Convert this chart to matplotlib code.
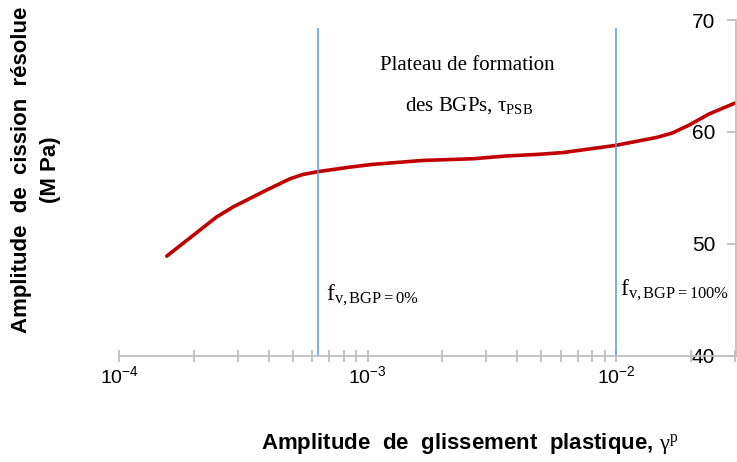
import matplotlib
matplotlib.use("Agg")
from matplotlib import pyplot as plt
from matplotlib.ticker import LogLocator, NullFormatter

plt.rcParams['font.family'] = 'Liberation Sans'
plt.rcParams['axes.unicode_minus'] = False
plt.rcParams['mathtext.fontset'] = 'custom'
plt.rcParams['mathtext.rm'] = 'Liberation Serif'
plt.rcParams['mathtext.it'] = 'Liberation Serif:italic'
plt.rcParams['mathtext.bf'] = 'Liberation Serif:bold'

# curve
gamma_p = [1.556e-4, 2.0e-4, 2.47e-4, 2.88e-4, 3.92e-4, 4.86e-4, 5.5e-4,
           6.32e-4, 8.47e-4, 1.05e-3, 1.67e-3, 2.65e-3, 3.61e-3, 4.91e-3,
           6.09e-3, 9.97e-3, 1.45e-2, 1.68e-2, 1.96e-2, 2.36e-2, 3.02e-2]
tau = [48.9, 50.8, 52.4, 53.3, 54.8, 55.8, 56.2, 56.45, 56.85, 57.1, 57.45,
       57.6, 57.85, 58.0, 58.15, 58.8, 59.5, 59.9, 60.6, 61.6, 62.6]

# onset / end of the PSB plateau
bgp_x = [6.32e-4, 1.0e-2]
bgp_top = 69.3
yticks = [40, 50, 60, 70]

grey = '#BFBFBF'

fig = plt.figure(figsize=(7.37, 4.62), dpi=100)
ax = fig.add_axes([119 / 737, 1 - 355.7 / 462, 617 / 737, 335.7 / 462])

ax.plot(gamma_p, tau, color='#C00000', lw=2.6, solid_capstyle='round',
        solid_joinstyle='round')
ax.vlines(bgp_x, 40, bgp_top, color='#5B9BD5', lw=1.1)

ax.set_xscale('log')
ax.set_xlim(1e-4, 3.03e-2)
ax.set_ylim(40, 70)
ax.set_yticks(yticks)
ax.xaxis.set_major_locator(LogLocator(base=10, numticks=10))
ax.xaxis.set_minor_locator(LogLocator(base=10, subs=range(2, 10), numticks=10))
ax.xaxis.set_minor_formatter(NullFormatter())

for s in ['left', 'top']:
    ax.spines[s].set_visible(False)
for s in ['bottom', 'right']:
    ax.spines[s].set_color(grey)
    ax.spines[s].set_linewidth(1.3)

ax.tick_params(axis='x', which='both', direction='inout', length=9,
               width=1.3, color=grey, labelsize=14, pad=2)
ax.yaxis.tick_right()
ax.tick_params(axis='y', which='both', direction='in', length=6.5, width=1.3,
               color=grey, labelsize=15, pad=-15)
for lab in ax.get_yticklabels():
    lab.set_ha('right')

ax.text(0.565, 0.865, 'Plateau de formation', transform=ax.transAxes,
        family='Liberation Serif', fontsize=15, ha='center', va='center')
ax.text(0.568, 0.745, r'des BGPs, $\mathrm{τ}_{\mathrm{PSB}}$',
        transform=ax.transAxes, family='Liberation Serif', fontsize=15,
        ha='center', va='center')
ax.text(326 / 737, 1 - 295 / 462, r'$\mathrm{f}_{\mathrm{v,BGP=0\%}}$',
        transform=fig.transFigure, fontsize=17, ha='left', va='center')
ax.text(620 / 737, 1 - 290 / 462, r'$\mathrm{f}_{\mathrm{v,BGP=100\%}}$',
        transform=fig.transFigure, fontsize=17, ha='left', va='center')

fig.text(470 / 737, 1 - 443 / 462,
         r'Amplitude  de  glissement  plastique, $\mathrm{γ}^{\mathrm{p}}$',
         fontsize=16, fontweight='bold', ha='center', va='center')
fig.text(36 / 737, 1 - 170 / 462, 'Amplitude  de  cission  résolue\n(M Pa)',
         fontsize=16, fontweight='bold', rotation=90, ha='center',
         va='center', multialignment='center', linespacing=1.45)

fig.savefig('out.png', dpi=100)
